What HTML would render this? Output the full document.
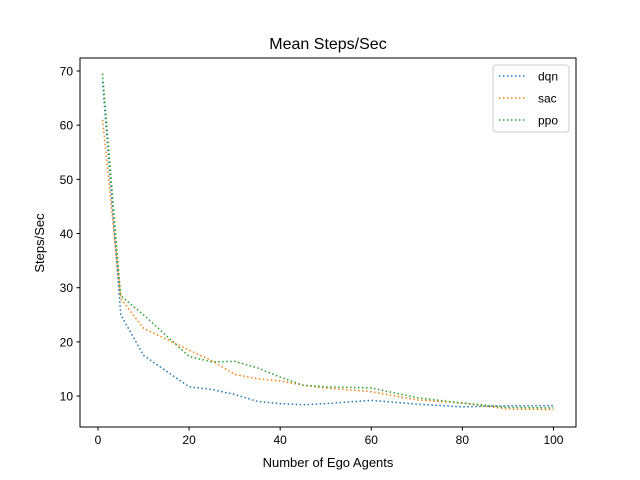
<!DOCTYPE html>
<html><head><meta charset="utf-8"><style>body{margin:0;background:#fff}svg{display:block;font-family:"Liberation Sans","DejaVu Sans",sans-serif}</style></head>
<body>
<svg id="chart" width="640" height="480">
<rect x="0" y="0" width="640" height="480" fill="#fff"/>
<text x="328" y="49" text-anchor="middle" font-size="16">Mean Steps/Sec</text>
<g id="ticks"></g>
<g id="lines"></g>
<rect x="80" y="58" width="496" height="369" fill="none" stroke="#000" stroke-width="1"/>
<text x="328" y="467" text-anchor="middle" font-size="13">Number of Ego Agents</text>
<text x="44" y="243" text-anchor="middle" font-size="13" transform="rotate(-90 44 243)">Steps/Sec</text>
<g id="legend">
<rect x="493" y="65" width="76" height="67" rx="3" fill="#fff" stroke="#ccc"/>
</g>
</svg>
<script>
const xs=[1,5,10,20,25,30,35,40,45,50,60,70,80,90,100];
const dqn=[68,25,17.5,11.7,11.2,10.3,9,8.6,8.4,8.6,9.2,8.5,8,8.2,8.2];
const sac=[61,28,22.5,18.5,16.5,14,13.2,12.8,12,11.5,10.8,9.3,8.7,7.6,7.5];
const ppo=[69.5,28.5,25,17.3,16.3,16.4,15.2,13.5,12,11.7,11.5,9.7,8.7,7.9,7.8];
const seriesNames=["dqn","sac","ppo"];
const xTicks=[0,20,40,60,80,100];
const yTicks=[10,20,30,40,50,60,70];
const colors=["#1f77b4","#ff7f0e","#2ca02c"];
const NS="http://www.w3.org/2000/svg";
function X(v){return 80+(v+3.95)/108.9*496;}
function Y(v){return 450.2-v*5.417;}
function mk(t,a,p){const e=document.createElementNS(NS,t);for(const k in a)e.setAttribute(k,a[k]);p.appendChild(e);return e;}
const tk=document.getElementById('ticks');
xTicks.forEach(v=>{
 const l=mk('line',{x1:X(v),x2:X(v),y1:427,y2:430.5,stroke:'#000'},tk);
 
 
 const t=mk('text',{x:X(v),y:444,'text-anchor':'middle','font-size':12},tk);t.textContent=v;
 
 
});
yTicks.forEach(v=>{
 const l=mk('line',{x1:76.5,x2:80,y1:Y(v),y2:Y(v),stroke:'#000'},tk);
 
 
 const t=mk('text',{x:73,y:Y(v)+4.5,'text-anchor':'end','font-size':12},tk);t.textContent=v;
 
 
});
const lg=document.getElementById('lines');
[dqn,sac,ppo].forEach((s,i)=>{
 const p=mk('polyline',{points:s.map((v,j)=>X(xs[j])+','+Y(v)).join(' '),fill:'none',stroke:colors[i],'stroke-width':1.5,'stroke-dasharray':'1.5,2.5'},lg);
 
 
});
const leg=document.getElementById('legend');
seriesNames.forEach((n,i)=>{
 const y=76+i*22;
 const l=mk('line',{x1:499,x2:527,y1:y,y2:y,stroke:colors[i],'stroke-width':1.5,'stroke-dasharray':'1.5,2.5'},leg);
 
 
 const t=mk('text',{x:538,y:y+4.5,'font-size':12},leg);t.textContent=n;
 
 
});
</script>
</body></html>
